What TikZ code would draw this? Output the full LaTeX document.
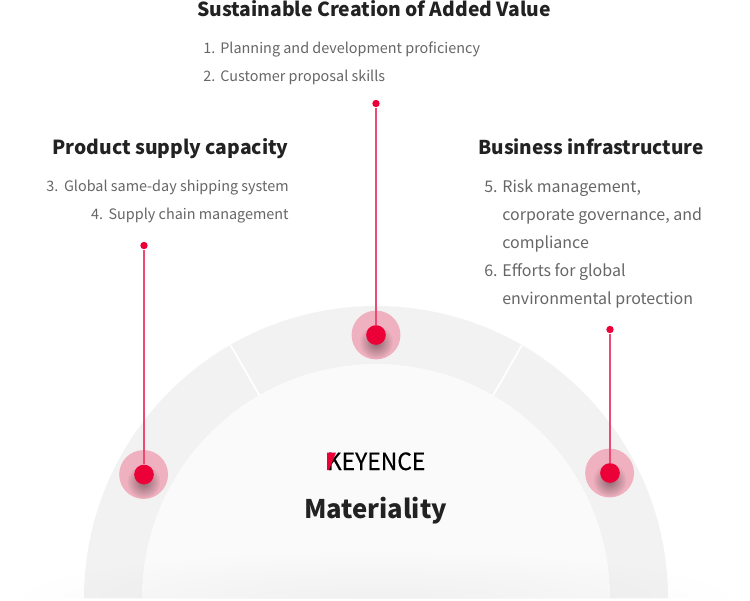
\documentclass[tikz,border=0pt]{standalone}
\usepackage{fontspec}
\setmainfont{Noto Sans CJK JP}
\usetikzlibrary{fadings}
\tikzfading[name=glowfade, inner color=transparent!0, outer color=transparent!100]
\definecolor{bandgray}{HTML}{F2F2F2}
\definecolor{innergray}{HTML}{FAFAFA}
\definecolor{pinred}{HTML}{EC0038}
\definecolor{linepink}{HTML}{EC4A72}
\definecolor{halopink}{HTML}{EFB0BF}
\definecolor{listgray}{HTML}{666666}
\definecolor{headblack}{HTML}{222222}
\tikzset{
  head/.style={inner sep=0pt,text=headblack,font=\fontsize{11}{14}\selectfont\bfseries},
  listitem/.style={inner sep=0pt,text=listgray,font=\fontsize{8.2}{16}\selectfont},
  biglistitem/.style={inner sep=0pt,text=listgray,font=\fontsize{9.1}{16}\selectfont},
  tinypin/.style={circle,fill=pinred,minimum size=4.2pt,inner sep=0pt},
  bigpin/.style={circle,fill=pinred,minimum size=11.2pt,inner sep=0pt},
  haloring/.style={circle,fill=halopink,minimum size=27.8pt,inner sep=0pt},
  pinstem/.style={line width=1pt,color=linepink}
}
\begin{document}
\begin{tikzpicture}[x=0.02cm,y=-0.02cm]
  \useasboundingbox (0,0) rectangle (750,600);

  % arch
  \begin{scope}
    \clip (0,0) rectangle (750,598);
    \fill[bandgray] (84,598) arc (180:360:292) -- cycle;
    \fill[innergray] (142,598) arc (180:360:234) -- cycle;
    \draw[white,line width=1pt] (230.5,345) -- (259.5,395.5);
    \draw[white,line width=1pt] (522,345) -- (493,395.5);
    \fill[black,opacity=0.04,path fading=glowfade] (376,600) ellipse [x radius=370,y radius=50];
  \end{scope}

  % pins
  \node[tinypin] (topa) at (376,103.5) {};
  \node[tinypin] (topb) at (144,245.5) {};
  \node[tinypin] (topc) at (610,329.5) {};

  \node[haloring] (haloa) at (376,335) {};
  \node[haloring] (halob) at (143.6,474.5) {};
  \node[haloring] (haloc) at (609.6,473) {};

  \foreach \p in {haloa,halob,haloc}{
    \begin{scope}
      \clip (\p) circle (24);
      \fill[black,opacity=0.42,path fading=glowfade] ([yshift=-4pt]\p) circle (17);
    \end{scope}
  }

  \node[bigpin] (pina) at (376,335) {};
  \node[bigpin] (pinb) at (144,474.5) {};
  \node[bigpin] (pinc) at (610,473) {};

  \draw[pinstem] (topa) -- (pina);
  \draw[pinstem] (topb) -- (pinb);
  \draw[pinstem] (topc) -- (pinc);

  % headings
  \node[head,anchor=base] (added) at (374,16) {Sustainable Creation of Added Value};
  \node[head,anchor=base east] (supply) at (289,154.5) {Product supply capacity};
  \node[head,anchor=base west,font=\fontsize{10.85}{14}\selectfont\bfseries] (infra) at (478,154.5) {Business infrastructure};

  % lists
  \node[listitem,anchor=base west] (item1) at (203,53) {1.};
  \node[listitem,anchor=base west] (text1) at (220,53) {Planning and development proficiency};
  \node[listitem,anchor=base west] (item2) at (203,81) {2.};
  \node[listitem,anchor=base west] (text2) at (220,81) {Customer proposal skills};

  \node[listitem,anchor=base east] (text3) at (289,191) {3.\hspace{3.2pt}Global same-day shipping system};
  \node[listitem,anchor=base east] (text4) at (289,219) {4.\hspace{3.2pt}Supply chain management};

  \node[biglistitem,anchor=base west] (item5) at (484,192) {5.};
  \node[biglistitem,anchor=base west] (text5a) at (502,192) {Risk management,};
  \node[biglistitem,anchor=base west] (text5b) at (502,220) {corporate governance, and};
  \node[biglistitem,anchor=base west] (text5c) at (502,248) {compliance};
  \node[biglistitem,anchor=base west] (item6) at (484,276) {6.};
  \node[biglistitem,anchor=base west] (text6a) at (502,276) {Efforts for global};
  \node[biglistitem,anchor=base west] (text6b) at (502,304) {environmental protection};

  % centre
  \node[inner sep=0pt,anchor=base west,text=black,font=\fontsize{13.5}{16}\selectfont\addfontfeature{FakeBold=0.5},xscale=0.965] (logo) at (326.5,470) {KEYENCE};
  \fill[pinred] (327,452.5) -- (336,452.5) -- (329,470) -- (327,470) -- cycle;
  \node[inner sep=0pt,anchor=base,text=headblack,font=\fontsize{14.6}{18}\selectfont\bfseries] (material) at (375.5,518.5) {Materiality};
\end{tikzpicture}
\end{document}
